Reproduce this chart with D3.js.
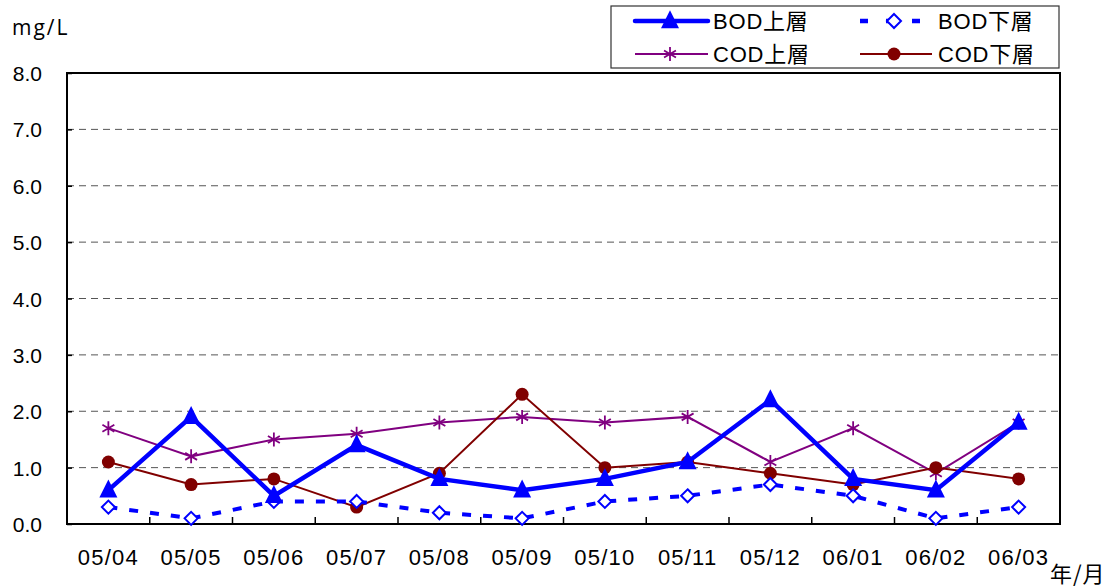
<!DOCTYPE html>
<html><head><meta charset="utf-8">
<script src="https://cdn.jsdelivr.net/npm/d3@7"></script>
<style>
body{margin:0;background:#fff;}
text{font-family:"Liberation Sans",Arial,"Noto Sans CJK JP",sans-serif;}
</style></head>
<body><svg id="c" width="1116" height="588"></svg>
<script>
const categories = ["05/04","05/05","05/06","05/07","05/08","05/09","05/10","05/11","05/12","06/01","06/02","06/03"];
const bodUpper = [0.6,1.9,0.5,1.4,0.8,0.6,0.8,1.1,2.2,0.8,0.6,1.8];
const bodLower = [0.3,0.1,0.4,0.4,0.2,0.1,0.4,0.5,0.7,0.5,0.1,0.3];
const codUpper = [1.7,1.2,1.5,1.6,1.8,1.9,1.8,1.9,1.1,1.7,0.9,1.8];
const codLower = [1.1,0.7,0.8,0.3,0.9,2.3,1.0,1.1,0.9,0.7,1.0,0.8];
const yTicks = [0,1,2,3,4,5,6,7,8];
const seriesNames = ["BOD上層","BOD下層","COD上層","COD下層"];

const svg = d3.select("#c");
const L=67, R=1060, T=73, B=524;
const x = d3.scaleBand().domain(categories).range([L,R]);
const y = d3.scaleLinear().domain([0,8]).range([B,T]);
const cx = d => x(d)+x.bandwidth()/2;

// gridlines
svg.append("g").selectAll("line").data(yTicks.filter(v=>v>0&&v<8)).join("line")
  .attr("x1",L).attr("x2",R).attr("y1",d=>y(d)).attr("y2",d=>y(d))
  .attr("stroke","#555").attr("stroke-width",1).attr("stroke-dasharray","7,5");

// frame
svg.append("rect").attr("x",L).attr("y",T).attr("width",R-L).attr("height",B-T)
  .attr("fill","none").attr("stroke","#000").attr("stroke-width",2);

// y axis
const ya = svg.append("g").attr("transform",`translate(${L},0)`)
  .call(d3.axisLeft(y).tickValues(yTicks).tickFormat(d3.format(".1f")).tickSize(-5).tickPadding(25));
ya.select(".domain").remove();
ya.selectAll("line").attr("stroke","#000").attr("stroke-width",1.5);
ya.selectAll("text").attr("font-size",21).attr("fill","#000").attr("text-anchor","end").attr("x",-25).attr("dy","0.36em");

// x axis
const xa = svg.append("g").attr("transform",`translate(0,${B})`);
xa.selectAll("line").data(categories.slice(1)).join("line")
  .attr("x1",d=>x(d)).attr("x2",d=>x(d)).attr("y1",0).attr("y2",-7)
  .attr("stroke","#000").attr("stroke-width",1.5);
xa.selectAll("text").data(categories).join("text")
  .attr("x",d=>cx(d)).attr("y",41).attr("text-anchor","middle")
  .attr("font-size",22).attr("letter-spacing",1.2).text(d=>d);

svg.append("text").attr("x",12).attr("y",35).attr("font-size",21).style("font-family","'Open Sans',sans-serif").attr("letter-spacing",2).text("mg/L");
svg.append("text").attr("x",1050).attr("y",582).attr("font-size",22).style("font-family","'Noto Sans CJK JP',sans-serif").attr("letter-spacing",1).text("年/月");

const line = d3.line().x((d,i)=>cx(categories[i])).y(d=>y(d));
const pts = (arr)=>arr.map((v,i)=>({x:cx(categories[i]),y:y(v)}));

function triangle(g,px,py,s){
  g.append("path").attr("d",`M${px},${py-s*0.6}L${px+s*0.5},${py+s*0.4}L${px-s*0.5},${py+s*0.4}Z`).attr("fill","#0000ff");
}
function diamond(g,px,py,s){
  g.append("path").attr("d",`M${px},${py-s}L${px+s},${py}L${px},${py+s}L${px-s},${py}Z`)
   .attr("fill","#fff").attr("stroke","#0000ff").attr("stroke-width",2);
}
function star(g,px,py,s){
  g.append("path").attr("d",`M${px},${py-s}L${px},${py+s}M${px-s*0.85},${py-s*0.5}L${px+s*0.85},${py+s*0.5}M${px-s*0.85},${py+s*0.5}L${px+s*0.85},${py-s*0.5}`)
   .attr("stroke","#800080").attr("stroke-width",1.8).attr("fill","none");
}
function dot(g,px,py,s){
  g.append("circle").attr("cx",px).attr("cy",py).attr("r",s).attr("fill","#800000");
}

const gl = svg.append("g");
gl.append("path").attr("d",line(codUpper)).attr("fill","none").attr("stroke","#800080").attr("stroke-width",2);
pts(codUpper).forEach(p=>star(gl,p.x,p.y,7));
gl.append("path").attr("d",line(codLower)).attr("fill","none").attr("stroke","#800000").attr("stroke-width",2);
pts(codLower).forEach(p=>dot(gl,p.x,p.y,6.5));
gl.append("path").attr("d",line(bodLower)).attr("fill","none").attr("stroke","#0000ff").attr("stroke-width",4).attr("stroke-dasharray","9,12");
pts(bodLower).forEach(p=>diamond(gl,p.x,p.y,6.5));
gl.append("path").attr("d",line(bodUpper)).attr("fill","none").attr("stroke","#0000ff").attr("stroke-width",4.5).attr("stroke-linejoin","miter");
pts(bodUpper).forEach(p=>triangle(gl,p.x,p.y,18));

// legend
const lg = svg.append("g");
lg.append("rect").attr("x",611).attr("y",6).attr("width",448).attr("height",62)
  .attr("fill","#fff").attr("stroke","#333").attr("stroke-width",1.2);
const legItems = [
  {name:seriesNames[0],x1:635,x2:708,ty:21},
  {name:seriesNames[1],x1:860,x2:920,ty:21},
  {name:seriesNames[2],x1:635,x2:708,ty:54},
  {name:seriesNames[3],x1:860,x2:932,ty:54}
];
legItems.forEach((it,i)=>{
  if(i===0){lg.append("line").attr("x1",it.x1).attr("x2",it.x2).attr("y1",it.ty).attr("y2",it.ty).attr("stroke","#0000ff").attr("stroke-width",4.5).attr("stroke-linecap","round");triangle(lg,670,it.ty,18);}
  if(i===1){lg.append("line").attr("x1",it.x1).attr("x2",it.x2).attr("y1",it.ty).attr("y2",it.ty).attr("stroke","#0000ff").attr("stroke-width",4.5).attr("stroke-dasharray","8,18");diamond(lg,894,it.ty,7);}
  if(i===2){lg.append("line").attr("x1",it.x1).attr("x2",it.x2).attr("y1",it.ty).attr("y2",it.ty).attr("stroke","#800080").attr("stroke-width",2);star(lg,670,it.ty,7);}
  if(i===3){lg.append("line").attr("x1",it.x1).attr("x2",it.x2).attr("y1",it.ty).attr("y2",it.ty).attr("stroke","#800000").attr("stroke-width",2);dot(lg,894,it.ty,6.5);}
  lg.append("text").attr("x",i%2===0?713:938).attr("y",it.ty+8).attr("font-size",22).attr("letter-spacing",0.8).text(it.name);
});
</script></body></html>
